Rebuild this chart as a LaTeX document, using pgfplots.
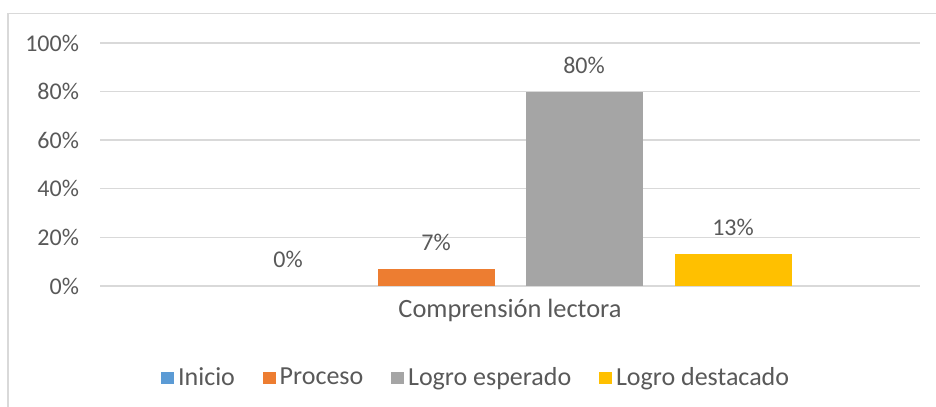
\documentclass[border=0pt]{standalone}
\usepackage{fontspec}
\setmainfont{Carlito}
\usepackage{pgfplots}
\pgfplotsset{compat=1.18}
\definecolor{cInicio}{HTML}{5B9BD5}
\definecolor{cProceso}{HTML}{ED7D31}
\definecolor{cLogro}{HTML}{A5A5A5}
\definecolor{cDest}{HTML}{FFC000}
\definecolor{gridc}{HTML}{D9D9D9}
\definecolor{txt}{HTML}{595959}
\begin{document}
\begin{tikzpicture}
\useasboundingbox (0,0) rectangle (468bp,203.5bp);
\draw[gridc, line width=0.8bp] (4bp,-2bp) -- (4bp,196.75bp) -- (470bp,196.75bp);
\begin{axis}[
  at={(50bp,60.5bp)}, anchor=south west,
  scale only axis, width=410bp, height=121.5bp,
  xmin=-1, xmax=1, ymin=0, ymax=100,
  ytick={0,20,40,60,80,100},
  yticklabel={\pgfmathprintnumber{\tick}\%},
  xtick={0}, xticklabels={Comprensión lectora},
  /pgf/number format/assume math mode=true,
  axis line style={draw=none},
  major tick length=0pt,
  ymajorgrids, major grid style={gridc, line width=0.7bp},
  ticklabel style={font=\fontsize{12bp}{14bp}\selectfont, text=txt},
  xticklabel style={yshift=-3bp, font=\fontsize{13.2bp}{15bp}\selectfont},
  yticklabel style={xshift=-7bp},
  ybar, bar width=58.5bp,
  point meta=y,
  nodes near coords={\pgfmathprintnumber{\pgfplotspointmeta}\%},
  every node near coord/.append style={font=\fontsize{12bp}{14bp}\selectfont, text=txt, anchor=south, inner sep=2bp, yshift=7bp},
  legend columns=4,
  legend style={draw=none, at={(0.46,-0.379)}, anchor=center,
    font=\fontsize{13bp}{15bp}\selectfont, text=txt,
    /tikz/every even column/.append style={column sep=12bp}},
  legend image code/.code={\fill[#1] (0bp,-3.2bp) rectangle (6.4bp,3.2bp);},
]
\addplot[fill=cInicio, draw=none, bar shift=-111bp] coordinates {(0,0)};
\addplot[fill=cProceso, draw=none, bar shift=-37bp] coordinates {(0,7)};
\addplot[fill=cLogro, draw=none, bar shift=37bp] coordinates {(0,80)};
\addplot[fill=cDest, draw=none, bar shift=111.5bp] coordinates {(0,13)};
\legend{Inicio, Proceso, Logro esperado, Logro destacado}
\end{axis}
\end{tikzpicture}
\end{document}
